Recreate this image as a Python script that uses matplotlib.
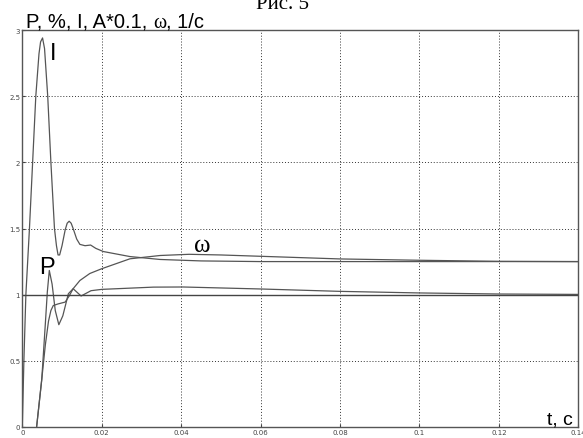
import matplotlib
matplotlib.use('Agg')
import matplotlib.pyplot as plt

# current I (A*0.1)
t_i = [0, 0.0004, 0.0009, 0.0018, 0.0026, 0.0034, 0.0042, 0.0046, 0.0051, 0.0056,
       0.0064, 0.0072, 0.0081, 0.0086, 0.0090, 0.0094, 0.0100, 0.0108, 0.0113,
       0.0118, 0.0123, 0.0128, 0.0137, 0.0145, 0.0158, 0.0172, 0.0185, 0.0204,
       0.0271, 0.0347, 0.045, 0.06, 0.08, 0.10, 0.12, 0.14]
i_val = [0, 0.5, 1.0, 1.5, 2.0, 2.5, 2.82, 2.91, 2.94, 2.86,
         2.5, 2.0, 1.5, 1.37, 1.30, 1.30, 1.37, 1.49, 1.54,
         1.555, 1.54, 1.5, 1.42, 1.38, 1.37, 1.375, 1.35, 1.326,
         1.288, 1.266, 1.255, 1.25, 1.25, 1.25, 1.25, 1.25]

# power P
t_p = [0.0036, 0.0049, 0.0058, 0.0063, 0.0068, 0.0075, 0.0083, 0.0092, 0.0102,
       0.0116, 0.0128, 0.0148, 0.0173, 0.020, 0.033, 0.0405, 0.06, 0.08,
       0.10, 0.12, 0.14]
p_val = [0, 0.36, 0.78, 1.02, 1.183, 1.08, 0.88, 0.773, 0.84,
         1.007, 1.045, 0.99, 1.03, 1.04, 1.057, 1.058, 1.043, 1.025,
         1.013, 1.005, 1.002]

# speed omega
t_w = [0.0036, 0.0049, 0.0058, 0.0066, 0.0072, 0.0078, 0.009, 0.0108, 0.0118,
       0.0128, 0.0145, 0.017, 0.020, 0.0271, 0.0347, 0.042, 0.05, 0.06,
       0.08, 0.10, 0.12, 0.14]
w_val = [0, 0.36, 0.62, 0.80, 0.88, 0.918, 0.93, 0.944, 0.99,
         1.045, 1.107, 1.16, 1.196, 1.271, 1.296, 1.305, 1.30, 1.29,
         1.27, 1.26, 1.252, 1.25]

xticks = [0, 0.02, 0.04, 0.06, 0.08, 0.1, 0.12, 0.14]
yticks = [0, 0.5, 1, 1.5, 2, 2.5, 3]

fig = plt.figure(figsize=(5.83, 4.39), dpi=100)
ax = fig.add_axes([22.3/583, 11/439, 556/583, 397/439])

c = '#555555'
ax.plot(t_i, i_val, color=c, lw=0.9)
ax.plot(t_p, p_val, color=c, lw=0.9)
ax.plot(t_w, w_val, color=c, lw=0.9)
ax.axhline(1, color='#444444', lw=1.0)

ax.set_xlim(0, 0.14)
ax.set_ylim(0, 3)
ax.set_xticks(xticks)
ax.set_xticklabels(['0', '0.02', '0.04', '0.06', '0.08', '0.1', '0.12', '0.14'])
ax.set_yticks(yticks)
ax.set_yticklabels(['0', '0.5', '1', '1.5', '2', '2.5', '3'])
ax.tick_params(labelsize=5, colors='#444444', direction='in', length=2, pad=1.5)
ax.grid(True, color='#333333', linestyle=(0, (1, 2)), lw=0.7)
for s in ax.spines.values():
    s.set_color('#555555')
    s.set_linewidth(1.0)

ax.text(0.0078, 2.78, 'I', fontsize=17, family='Liberation Sans', ha='center', va='baseline')
ax.text(0.0061, 1.16, 'P', fontsize=17, family='Liberation Sans', ha='center', va='baseline')
ax.text(0.0453, 1.33, 'ω', fontsize=18, family='Liberation Serif', ha='center', va='baseline')

ax.text(0.1385, 0.03, 't, c', fontsize=14, family='Liberation Sans', ha='right', va='baseline')

# y-axis label drawn in pieces so that omega is in a serif face
fig.canvas.draw()
r = fig.canvas.get_renderer()
yb = 1 - 28/439
x0 = 26/583
parts = [('P, %, I, A*0.1, ', 'Liberation Sans'), ('ω', 'Liberation Serif'),
         (', 1/c', 'Liberation Sans')]
for txt, fam in parts:
    tt = fig.text(x0, yb, txt, fontsize=14.5, family=fam, va='baseline', ha='left')
    bb = tt.get_window_extent(renderer=r)
    x0 = bb.x1 / fig.bbox.width

fig.text(283/583, 1 - 9/439, 'Рис. 5', fontsize=15, family='Liberation Serif',
         ha='center', va='baseline')

fig.savefig('out.png', dpi=100)
